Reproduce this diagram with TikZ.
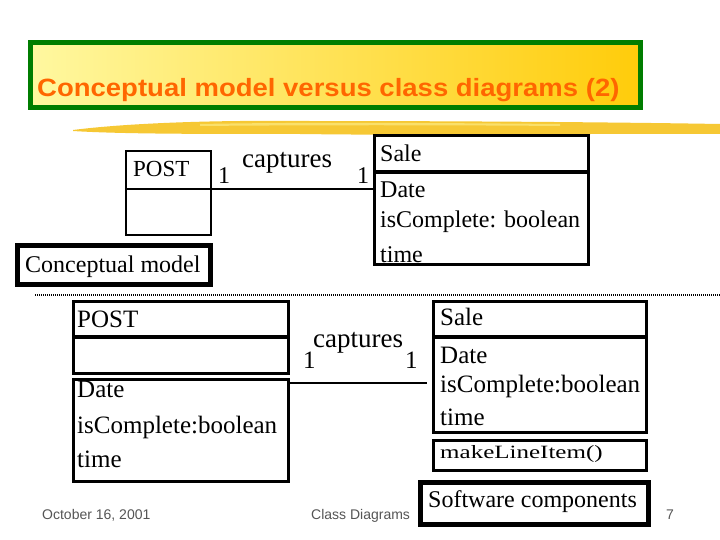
\documentclass[tikz,border=0pt]{standalone}
\usepackage{fontspec}
\setmainfont{Liberation Serif}
\newfontfamily\sansf{Liberation Sans}
\definecolor{titlegreen}{RGB}{0,125,0}
\definecolor{titleorange}{RGB}{255,102,0}
\definecolor{yellowL}{RGB}{255,248,160}
\definecolor{yellowR}{RGB}{255,204,10}
\definecolor{brushc}{RGB}{246,200,52}
\definecolor{footgrey}{RGB}{85,85,85}
\begin{document}
\begin{tikzpicture}[x=1pt,y=-1pt,
  box/.style={draw=black, rectangle, inner sep=0pt, line width=3pt},
  thickbox/.style={draw=black, rectangle, inner sep=0pt, line width=5pt},
  divider/.style={draw=black, line width=4pt},
  conn/.style={draw=black, line width=2pt},
  txt/.style={anchor=base west, inner sep=0pt, font=\fontsize{24}{24}\selectfont},
  txtb/.style={anchor=base west, inner sep=0pt, font=\fontsize{25}{25}\selectfont},
  lbl/.style={anchor=base west, inner sep=0pt, font=\fontsize{27}{27}\selectfont},
  foot/.style={anchor=base west, inner sep=0pt, text=footgrey, font=\sansf\fontsize{14}{14}\selectfont}
]
\path[use as bounding box] (0,0) rectangle (720,540);
\fill[white] (0,0) rectangle (720,540);

% title
\node[draw=titlegreen, line width=5pt, left color=yellowL, right color=yellowR,
      rectangle, inner sep=0pt, minimum width=610pt, minimum height=65pt] (titlebox) at (335.5,75) {};
\node[anchor=base west, inner sep=0pt, text=titleorange,
      font=\sansf\bfseries\fontsize{25}{25}\selectfont] (title) at (37,97)
      {\scalebox{1.1}[1]{Conceptual model versus class diagrams (2)}};

% brush stroke
\fill[brushc] (73,130) .. controls (120,124) and (200,120) .. (300,121)
  .. controls (450,121) and (600,122) .. (720,124) -- (720,134)
  .. controls (600,133) and (450,136) .. (300,134)
  .. controls (200,134) and (120,134) .. (73,131) -- cycle;
\fill[yellowL, opacity=0.5] (200,124) .. controls (300,122) and (450,123) .. (560,124)
  -- (560,126) .. controls (450,125) and (300,125) .. (200,126) -- cycle;

% ---- conceptual model ----
\node[box, line width=2.5pt, minimum width=85pt, minimum height=84pt] (post1) at (168.5,193) {};
\draw[line width=2.5pt] (post1.west |- 0,189) -- (post1.east |- 0,189);
\node[txt, font=\fontsize{23}{23}\selectfont] (post1name) at (133,177) {POST};

\node[box, minimum width=214pt, minimum height=129pt] (sale1) at (481.5,200) {};
\draw[divider] (sale1.west |- 0,172) -- (sale1.east |- 0,172);
\node[txt] (sale1name) at (380,162) {Sale};
\node[txt] (sale1a) at (380,197) {Date};
\node[txt] (sale1b) at (380,227) {isComplete: boolean};
\node[txt] (sale1c) at (380,262) {time};

\draw[conn] (post1.east |- 0,189) -- (sale1.west |- 0,189);
\node[txt] (m1a) at (218,184) {1};
\node[lbl] (cap1) at (242,168) {captures};
\node[txt] (m1b) at (357,184) {1};

\node[thickbox, minimum width=193pt, minimum height=39pt] (concept) at (114,265) {};
\node[txt] (concepttxt) at (25,272) {Conceptual model};

% separator
\draw[line width=2pt, dash pattern=on 1pt off 1pt] (35,295) -- (720,295);

% ---- class diagram ----
\node[box, minimum width=215pt, minimum height=71.5pt] (post2a) at (181,337.25) {};
\draw[divider] (post2a.west |- 0,337) -- (post2a.east |- 0,337);
\node[box, minimum width=215pt, minimum height=102.5pt] (post2b) at (181,430.25) {};
\node[txtb] (post2name) at (77,327) {POST};
\node[txtb] (post2a1) at (77,397) {Date};
\node[txtb] (post2a2) at (77,433) {isComplete:boolean};
\node[txtb] (post2a3) at (77,467) {time};

\node[box, minimum width=213pt, minimum height=130.5pt] (sale2a) at (540,366.75) {};
\draw[divider] (sale2a.west |- 0,337) -- (sale2a.east |- 0,337);
\node[box, minimum width=213pt, minimum height=30.5pt] (sale2b) at (540,455.25) {};
\node[txtb] (sale2name) at (440,325) {Sale};
\node[txtb] (sale2a1) at (440,363) {Date};
\node[txtb] (sale2a2) at (440,392) {isComplete:boolean};
\node[txtb] (sale2a3) at (440,425) {time};
\node[txtb] (sale2op) at (440,458) {\scalebox{1}[0.75]{makeLineItem()}};

\draw[conn, shorten >=5pt] (post2b.east |- 0,383) -- (sale2a.west |- 0,383);
\node[txtb] (m2a) at (303,368) {1};
\node[lbl] (cap2) at (313,347) {captures};
\node[txtb] (m2b) at (405,368) {1};

\node[thickbox, minimum width=228pt, minimum height=42pt] (soft) at (534.5,503.5) {};
\node[txt] (softtxt) at (428,507) {Software components};

% footer
\node[foot] (date) at (42,519) {October 16, 2001};
\node[foot] (course) at (311,519) {Class Diagrams};
\node[foot] (page) at (666,519) {7};
\end{tikzpicture}
\end{document}
